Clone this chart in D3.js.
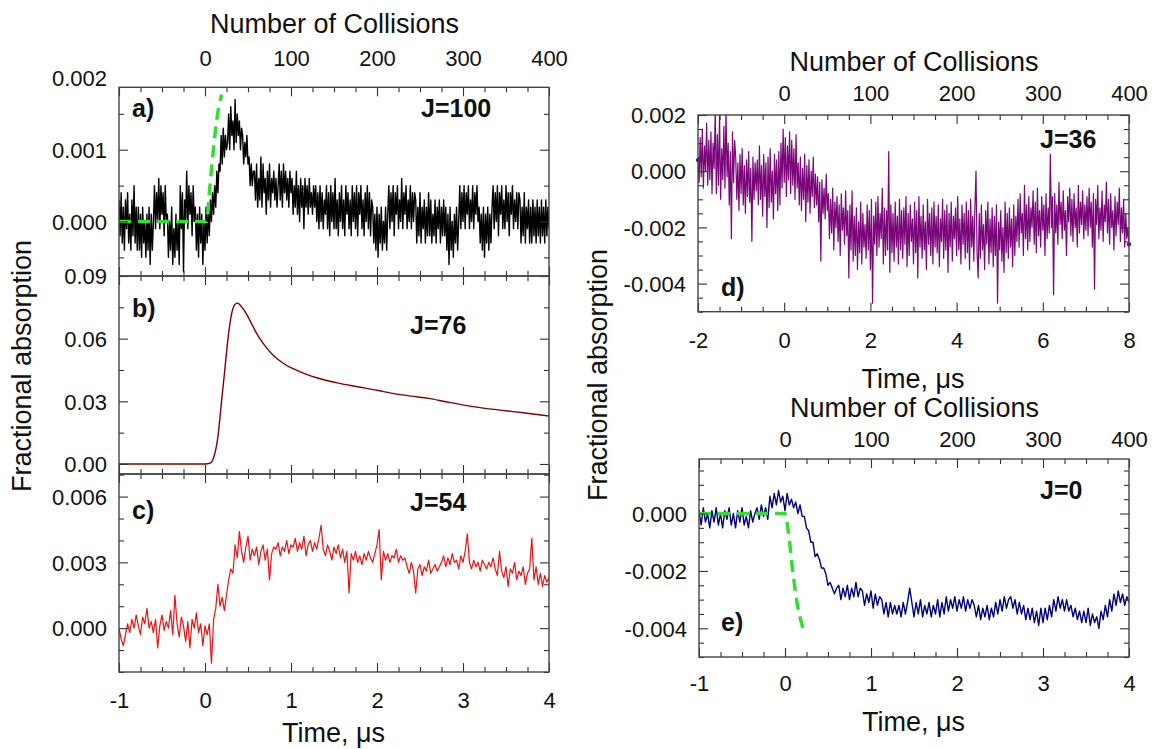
<!DOCTYPE html>
<html>
<head>
<meta charset="utf-8">
<script src="https://cdn.jsdelivr.net/npm/d3@7"></script>
<style>
  body { margin: 0; background: #fff; }
  svg text { font-family: "Liberation Sans", Arial, sans-serif; fill: #111; }
</style>
</head>
<body>
<svg id="fig" width="1155" height="749"></svg>
<script>
// Fractional absorption traces.
// a, c, d, e are stored in units of 1e-4 on a regular time grid (us).

// a) J=100, t = -1 .. 4, step 0.0125
const aAbs = [3,-2,4,-3,2,-4,3,-1,4,-3,1,-4,3,-2,5,-3,2,-4,
  2,-4,1,-5,2,-3,0,-5,1,-4,2,-6,1,-4,0,
  5,-1,4,0,6,-1,5,1,4,-2,5,0,
  1,-5,0,-4,2,-6,-1,-5,1,-4,0,-6,
  5,-1,4,-7,3,0,7,-1,5,1,4,-2,5,0,
  2,-4,1,-5,2,-3,1,-6,0,-4,2,-3,
  2,-2,3,0,4,1,5,2,7,4,8,
  7,12,8,13,9,12,10,
  11,15,10,16,12,14,10,17,11,15,12,14,10,13,
  12,8,11,9,12,8,
  9,5,8,5,7,
  7,3,8,2,6,3,9,2,8,4,6,1,7,3,8,2,6,4,7,3,6,2,5,
  8,3,7,2,8,4,7,3,6,2,7,4,
  6,1,5,2,7,1,5,0,6,2,5,-1,6,2,5,1,6,2,4,1,5,2,
  5,0,4,-1,5,0,4,-1,3,1,
  5,-1,4,-2,5,0,4,-1,6,-1,3,-2,4,0,5,-1,3,-2,5,1,4,-1,3,-2,5,0,4,-1,5,-2,4,1,5,-1,3,-2,4,0,5,-1,4,-2,3,
  2,-3,1,-4,2,-5,1,-3,2,-4,0,-3,2,-4,1,
  5,-1,4,0,5,-2,4,1,5,-1,3,0,6,-1,4,1,5,-1,3,0,5,-1,4,0,4,
  3,-3,2,-2,4,-3,2,-1,3,-3,2,-2,4,-2,3,-3,1,-2,3,-3,2,-1,3,-3,2,-2,3,-2,
  2,-4,1,-6,2,-4,0,-5,1,-3,2,-4,0,
  5,-1,4,0,5,-1,4,1,5,-1,3,0,5,-1,4,1,5,0,
  2,-3,1,-4,2,-5,1,-3,2,-4,1,-3,2,
  5,-1,4,0,5,-2,4,1,5,-1,3,-1,5,0,4,-2,4,1,5,-1,3,0,4,-1,4,
  3,-3,2,-2,4,-3,2,-1,3,-3,2,-3,3,-2,2,-3,3,-2,2,-3,3,-2,2,-3,3,-2,2,-1];
const aFitTime = [-1, 0.02, 0.047, 0.097, 0.147, 0.194];
const aFitAbs = [0, 0, 3.5, 10, 15, 17.7];

// b) J=76, absolute units
const bTime = [-1, -0.5, 0, 0.06, 0.1, 0.15, 0.19, 0.23, 0.27, 0.31, 0.35, 0.38, 0.42, 0.48, 0.55, 0.61,
  0.69, 0.77, 0.85, 0.94, 1.05, 1.15, 1.35, 1.55, 1.77, 2.0, 2.18, 2.4, 2.6, 2.8, 3.01, 3.2, 3.43, 3.7, 4.0];
const bAbs = [0, 0, 0, 0.0004, 0.003, 0.013, 0.029, 0.045, 0.061, 0.072, 0.0765, 0.077, 0.0755, 0.072,
  0.0665, 0.0618, 0.057, 0.053, 0.050, 0.0474, 0.0452, 0.0434, 0.0407, 0.0387, 0.037, 0.0353, 0.0338,
  0.0325, 0.0314, 0.0298, 0.0282, 0.027, 0.0258, 0.0245, 0.023];

// c) J=54, t = -1 .. 4, step 0.025
const cAbs = [0,-5,-8,-3,2,-2,4,0,6,1,-3,5,2,9,0,3,
  -2,4,-9,1,6,-1,3,0,8,-3,15,2,-4,5,1,-6,3,-9,4,0,7,-2,2,-8,1,
  -3,2,-16,4,9,20, 10,14,8,15, 22,27,25, 38,32,44,35,30,37,42,31,36,
  33,37,29,35,38,31,36,22,34,37, 36,39,33,37,35,40,34,38,
  37,41,35,39,36,42,33,38,40,35,39,36,41, 47,
  36,33,38,35,31,37,34,38,32,36,30,35, 16, 34,31,35,30,33,29,34,31,35,32,30,34, 38,45,
  22,35,31,34,30,33,32,36,30,33,31,32, 28,25,30,26,16,27,29,24,28,26,31,25,27,29,26,28,
  30,33,28,32,29,34,30,31,27,33,30,35,43, 30,27,31,28,30,26,31,29,27,30,28,32,27,
  24,35,26,23,28,19,27,25,30,22,26,24,28,20,25,27,41, 22,28,20,25,19,24,21,23];

// d) J=36, t = -2 .. 8, step 0.025
const dAbs = [4,-4,12,-2,15,-6,9,0,17,-5,11,-3,14,-8,10,1,
  22,-8,13,-5,20,-10,8,-3,16,-6,22,-2,10,-12,7,-24,14,-4,11,
  5,-10,3,-14,6,-8,8,-12,2,-15,4,-9,7,-11,1,-25,5,-10,3,-7,
  4,-12,9,-10,2,-16,6,-9,3,-20,5,-13,8,-11,0,-17,6,-8,4,-14,7,-12,
  10,-6,15,-4,12,-9,9,-3,14,-8,11,-5,8,-10,13,-6,
  3,-12,5,-14,1,-10,6,-18,2,-11,4,-15,0,-9,5,-13,-1,-12,
  -2,-18,-4,-32,-3,-15,-6,-17,-1,-14,
  -8,-24,-10,-22,-6,-28,-11,-20,-9,-25,-12,-30,-8,-21,-13,-26,-7,-23,
  -14,-38,-12,-28,-7,-32,-16,-30,-13,-35,-18,-29,-11,-33,-15,-27,-19,-31,
  -12,-28,-14,-35,-10,-47,-16,-26,-11,-30,-9,-27,-15,-24,-6,-33,
  -13,-30,-14,-28,7,-36,-12,-29,-15,-32,-11,
  -27,-16,-33,-10,-28,-14,-31,-13,-26,-9,-34,
  -15,-30,-12,-25,-17,-33,-11,-29,-14,-38,-9,
  -27,-16,-31,-12,-28,-18,-35,-10,-26,-15,-30,
  -13,-33,-11,-27,-16,-29,-12,-34,-17,-25,-10,
  -31,-14,-28,-12,-36,-15,-27,-11,-32,-16,-24,
  -13,-30,-9,-28,-17,-33,-12,-26,-15,-31,-11,
  -29,-14,-35,-10,-27,-16,-32,-13,0,-29,-38,
  -15,-31,-12,-28,-19,-35,-14,-26,-11,-33,-17,-29,
  -13,-34,-16,-30,-12,-47,-18,-28,-14,-32,-20,-36,
  -11,-29,-15,-31,-13,-27,-17,-34,-12,-30,-16,-25,
  -10,-27,-8,-22,-15,-30,-5,-24,-12,-28,-9,-25,-13,-20,-7,-26,
  -11,-29,-6,-23,-14,-27,-9,-21,-12,-30,-8,-24,-13,-22,6,-20,
  -9,-44,-8,-22,-12,-26,-4,-19,-11,-24,-7,-21,-14,-30,-9,-18,
  -6,-23,-10,-25,-8,-20,-13,-27,-5,-22,-11,-19,-7,-24,-12,-21,
  -9,-23,-6,-20,-11,-27,-8,-42,-10,-19,-5,-24,-13,-21,-7,-25,-12,-18,-4,-22,
  -10,-26,-8,-20,-14,-28,-9,-23,-11,-19,-6,-25,-13,-22,-10,-27,-15,-24,-20,-26];

// e) J=0, t = -1 .. 4, step 0.025
const eAbs = [1,-4,2,-3,0,-5,1,-3,2,-4,0,-5,1,-2,2,-4,0,-5,1,-3,2,-4,-1,-5,1,-3,0,
  2,-2,3,-1,2,-2, 6,2,7,3,8,4,6,1,7,3,5,2, 4,0,3,-1, -1,-5,-6,-10, -10,-15,-14,
  -16,-19,-19, -21,-25,-24, -26,-28,-26,
  -25,-30,-26,-29,-25,-30,-26,-29,-24,-29,-26,
  -27,-32,-28,-31,-27,-33,-28,-32,-29,
  -30,-35,-31,-36,-31,-35,-32,-35,
  -32,-36,-31,-35,-31,-26,
  -31,-36,-31,-35,-30,-36,-32,-35,-31,-36,-32,-35,-30,-36,-31,-35,
  -29,-34,-30,-33,-29,-34,-30,-33,-29,-34,-30,-33,-30,
  -32,-36,-32,-37,-33,-36,-32,-37,-33,-36,-31,-35,-30,-34,-29,-33,-30,
  -29,-33,-30,-35,-31,-35,-32,-37,-33,-37,
  -33,-38,-34,-39,-33,-38,-33,-37,-32,-36,
  -30,-34,-29,-33,-30,-34,-30,-34,
  -32,-36,-33,-37,-34,-38,-34,-38,-33,-39,-35,-38,-36,-40,-34,-37,
  -32,-36,-30,-34,-28,-32,-27,-31,-28,-32,-29,-31];
const eFitTime = [-1, 0, 0.035, 0.09, 0.14, 0.21];
const eFitAbs = [0, 0, -5.5, -20, -31, -40];

// tick labels
const collisionTicks = [0, 100, 200, 300, 400];
const timeTicksLeft = [-1, 0, 1, 2, 3, 4];
const timeTicksD = [-2, 0, 2, 4, 6, 8];
const yTicksA = [0, 0.001, 0.002];
const yTicksB = [0, 0.03, 0.06, 0.09];
const yTicksC = [0, 0.003, 0.006];
const yTicksD = [-0.004, -0.002, 0, 0.002];
const yTicksE = [-0.004, -0.002, 0];

const U = 1e-4;
const grid = (start, step, vals) => vals.map((v, i) => [start + i * step, v * U]);
const pairs = (ts, vs, k) => ts.map((t, i) => [t, vs[i] * k]);

const svg = d3.select('#fig');
const GREEN = '#2fe02f';
let clipId = 0;

function drawPanel(p) {
  const g = svg.append('g');
  const x = d3.scaleLinear().domain(p.xDomain).range([p.x0, p.x1]);
  const y = d3.scaleLinear().domain(p.yDomain).range([p.y1, p.y0]);
  const eps = 1e-9;
  const inY = v => v >= p.yDomain[0] - eps && v <= p.yDomain[1] + eps;
  const notIn = list => v => !list.some(m => Math.abs(m - v) < eps);
  const xMinor = d3.range(p.xDomain[0], p.xDomain[1] + eps, p.xMinor).filter(notIn(p.xTicks));
  const yStart = Math.ceil(p.yDomain[0] / p.yMinor - eps) * p.yMinor;
  const yMinor = d3.range(yStart, p.yDomain[1] + eps, p.yMinor).filter(notIn(p.yTicks)).filter(inY);
  const yMajor = p.yTicks.filter(inY);

  const id = 'clip' + (clipId++);
  g.append('clipPath').attr('id', id).append('rect')
    .attr('x', p.x0).attr('y', p.y0).attr('width', p.x1 - p.x0).attr('height', p.y1 - p.y0);

  const plot = g.append('g').attr('clip-path', `url(#${id})`);
  p.series.forEach(s => {
    plot.append('path').datum(s.points)
      .attr('d', d3.line().x(d => x(d[0])).y(d => y(d[1])).curve(s.curve || d3.curveLinear))
      .attr('fill', 'none').attr('stroke', s.color).attr('stroke-width', s.width)
      .attr('stroke-dasharray', s.dash || null).attr('stroke-linejoin', 'round');
  });
  if (p.endDots) {
    const s = p.series[0].points;
    g.selectAll('circle.end').data([s[0], s[s.length - 1]]).enter().append('circle')
      .attr('cx', d => x(d[0])).attr('cy', d => y(d[1])).attr('r', 2.2).attr('fill', p.series[0].color);
  }

  // inward ticks on all four sides
  const ticks = (axis, scale, vals, size, tr) => g.append('g').attr('transform', tr)
    .call(axis(scale).tickValues(vals).tickSizeInner(-size).tickSizeOuter(0).tickFormat(''))
    .call(a => a.select('.domain').remove())
    .call(a => a.selectAll('line').attr('stroke', '#333').attr('stroke-width', 1.1));
  [[p.xTicks, 9], [xMinor, 5]].forEach(([v, s]) => {
    ticks(d3.axisBottom, x, v, s, `translate(0,${p.y1})`);
    ticks(d3.axisTop, x, v, s, `translate(0,${p.y0})`);
  });
  [[yMajor, 9], [yMinor, 5]].forEach(([v, s]) => {
    ticks(d3.axisLeft, y, v, s, `translate(${p.x0},0)`);
    ticks(d3.axisRight, y, v, s, `translate(${p.x1},0)`);
  });

  g.append('rect').attr('x', p.x0).attr('y', p.y0).attr('width', p.x1 - p.x0).attr('height', p.y1 - p.y0)
    .attr('fill', 'none').attr('stroke', '#444').attr('stroke-width', 1.4);

  const label = (axis, scale, vals, fmt, tr, fn) => g.append('g').attr('transform', tr)
    .call(axis(scale).tickValues(vals).tickSize(0).tickFormat(fmt))
    .call(a => a.select('.domain').remove())
    .call(a => a.selectAll('text').attr('font-size', 22).attr('fill', '#111').call(fn));

  // y tick labels
  const yfmt = v => d3.format(p.yFormat)(v).replace('\u2212', '-');
  label(d3.axisLeft, y, p.yTicks, yfmt, `translate(${p.x0},0)`,
    t => t.attr('x', -12).attr('dy', '0.35em'));

  if (p.bottomLabels) {
    label(d3.axisBottom, x, p.xTicks, v => String(v).replace('\u2212', '-'), `translate(0,${p.y1})`,
      t => t.attr('y', p.bottomOff).attr('dy', '0.35em'));
    g.append('text').attr('x', (p.x0 + p.x1) / 2 - 0.5).attr('y', p.y1 + p.timeTitleOff)
      .attr('dy', '0.35em').attr('text-anchor', 'middle').attr('font-size', 27).text('Time, \u03bcs');
  }
  if (p.topLabels) {
    const xc = d3.scaleLinear().domain(p.xDomain.map(t => t * p.perUs)).range([p.x0, p.x1]);
    label(d3.axisTop, xc, collisionTicks, d3.format('d'), `translate(0,${p.y0})`,
      t => t.attr('y', -p.topOff).attr('dy', '0.35em'));
    g.append('text').attr('x', (p.x0 + p.x1) / 2 + 0.5).attr('y', p.y0 - p.collTitleOff)
      .attr('dy', '0.35em').attr('text-anchor', 'middle').attr('font-size', 27).text('Number of Collisions');
  }

  p.notes.forEach(n => {
    g.append('text').attr('x', n[0]).attr('y', n[1]).attr('dy', '0.35em')
      .attr('font-size', 25).attr('font-weight', 'bold').attr('fill', '#000').text(n[2]);
  });
}

const left = { x0: 119, x1: 549, xDomain: [-1, 4], xTicks: timeTicksLeft, xMinor: 0.25 };

drawPanel(Object.assign({}, left, {
  y0: 87.3, y1: 276, yDomain: [-0.00076, 0.00187], yTicks: yTicksA, yMinor: 0.0005, yFormat: '.3f',
  topLabels: true, perUs: 100, topOff: 29.3, collTitleOff: 63.3,
  series: [
    { points: grid(-1, 0.0125, aAbs), color: '#000', width: 1.4 },
    { points: pairs(aFitTime, aFitAbs, U), color: GREEN, width: 3.5, dash: '12,7', curve: d3.curveMonotoneX }
  ],
  notes: [[132, 108, 'a)'], [421, 108, 'J=100']]
}));

drawPanel(Object.assign({}, left, {
  y0: 276, y1: 474, yDomain: [-0.0048, 0.09], yTicks: yTicksB, yMinor: 0.015, yFormat: '.2f',
  series: [{ points: pairs(bTime, bAbs, 1), color: '#850000', width: 1.4, curve: d3.curveMonotoneX }],
  notes: [[132, 308, 'b)'], [410, 325, 'J=76']]
}));

drawPanel(Object.assign({}, left, {
  y0: 474, y1: 672, yDomain: [-0.002, 0.00703], yTicks: yTicksC, yMinor: 0.001, yFormat: '.3f',
  bottomLabels: true, bottomOff: 28, timeTitleOff: 61,
  series: [{ points: grid(-1, 0.025, cAbs), color: '#ee1111', width: 1.2 }],
  notes: [[132, 510, 'c)'], [410, 502, 'J=54']]
}));

drawPanel({
  x0: 698, x1: 1129, xDomain: [-2, 8], xTicks: timeTicksD, xMinor: 0.5,
  y0: 115, y1: 311.7, yDomain: [-0.005, 0.002], yTicks: yTicksD, yMinor: 0.0005, yFormat: '.3f',
  topLabels: true, perUs: 50, topOff: 21.7, collTitleOff: 53.3,
  bottomLabels: true, bottomOff: 28.3, timeTitleOff: 67.3, endDots: true,
  series: [{ points: grid(-2, 0.025, dAbs), color: '#7a067a', width: 1.2 }],
  notes: [[721, 287, 'd)'], [1040, 139, 'J=36']]
});

drawPanel({
  x0: 699, x1: 1129, xDomain: [-1, 4], xTicks: timeTicksLeft, xMinor: 0.25,
  y0: 459, y1: 657, yDomain: [-0.005, 0.0019], yTicks: yTicksE, yMinor: 0.0005, yFormat: '.3f',
  topLabels: true, perUs: 100, topOff: 19.7, collTitleOff: 51,
  bottomLabels: true, bottomOff: 26.3, timeTitleOff: 65,
  series: [
    { points: grid(-1, 0.025, eAbs), color: '#00007f', width: 1.4 },
    { points: pairs(eFitTime, eFitAbs, U), color: GREEN, width: 3.5, dash: '12,7', curve: d3.curveMonotoneX }
  ],
  notes: [[721, 622, 'e)'], [1040, 490, 'J=0']]
});

// shared y titles
[[22, 366], [598, 375]].forEach(([cx, cy]) => {
  svg.append('text').attr('transform', `translate(${cx},${cy}) rotate(-90)`)
    .attr('dy', '0.35em').attr('text-anchor', 'middle').attr('font-size', 27).text('Fractional absorption');
});
</script>
</body>
</html>
